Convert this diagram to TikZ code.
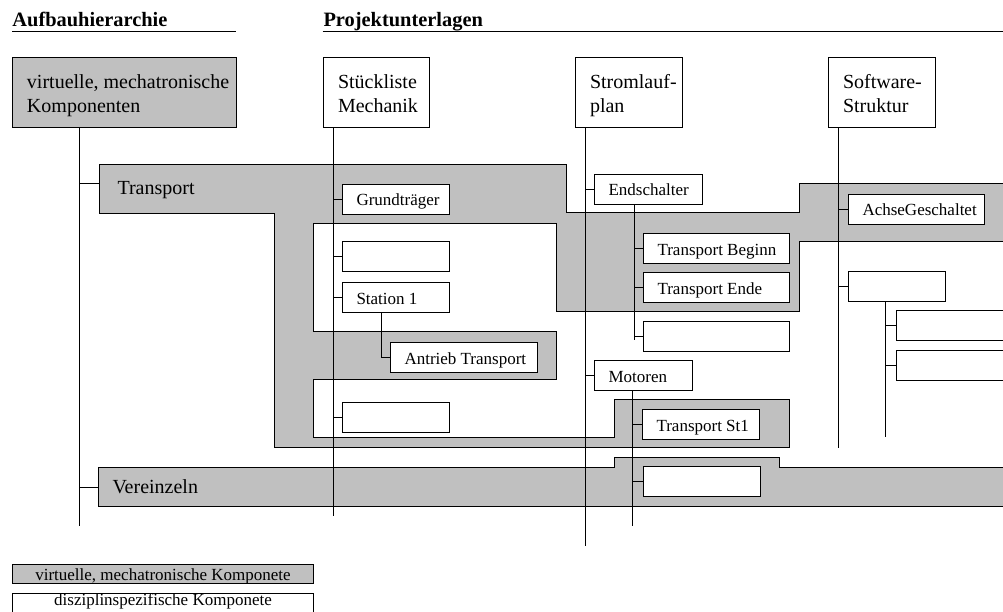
\documentclass[tikz,border=0pt]{standalone}
\usepackage{fontspec}
\setmainfont{Liberation Serif}
\definecolor{vgray}{RGB}{192,192,192}
% one-line cell: width, text (left padded, fixed baseline)
\newcommand\celltext[2]{\hbox to #1pt{\hskip14pt\vbox to 30pt{\offinterlineskip\kern21.5pt\hbox{\smash{#2}}\vss}\hss}}
% two-line cell for the column heads: width, line 1, line 2
\newcommand\headtext[3]{\hbox to #1pt{\hskip14.5pt\vbox to 70pt{\offinterlineskip\kern31pt\hbox{\smash{#2}}\kern24pt\hbox{\smash{#3}}\vss}\hss}}
\begin{document}
\begin{tikzpicture}[x=1pt,y=-1pt,line width=1pt,
  vk/.style={fill=vgray,draw=black,line width=1pt},
  cbox/.style={draw=black,fill=white,line width=1pt,inner sep=0pt,anchor=north west,
    font=\fontsize{17}{20}\selectfont},
  headbox/.style={cbox,font=\fontsize{20}{24}\selectfont},
  ebox/.style={cbox,minimum height=30pt},
  biglabel/.style={anchor=base west,inner sep=0pt,font=\fontsize{20}{24}\selectfont},
  title/.style={anchor=base west,inner sep=0pt,font=\bfseries\fontsize{20.4}{24}\selectfont},
  legbox/.style={draw=black,line width=1pt,inner sep=0pt,anchor=north west,
    minimum width=301pt,font=\fontsize{17}{20}\selectfont},
  ln/.style={draw=black,line width=1pt}]
\useasboundingbox (0,0) rectangle (1003,612);
\clip (0,0) rectangle (1003,612);

% section titles
\node[title] (tA) at (12,27) {Aufbauhierarchie};
\node[title] (tP) at (323,27) {Projektunterlagen};
\draw[ln,line width=1.2pt] (12,31.7) -- (236,31.7);
\draw[ln,line width=1.2pt] (322.7,31.7) -- (1010,31.7);

% virtual mechatronic components (grey areas)
\draw[vk] (99,165) -- (566,165) -- (566,213) -- (799,213) -- (799,184) -- (1010,184)
  -- (1010,242) -- (799,242) -- (799,311) -- (556,311) -- (556,224) -- (313,224)
  -- (313,331) -- (556,331) -- (556,379) -- (313,379) -- (313,437) -- (614,437)
  -- (614,399) -- (789,399) -- (789,447) -- (274,447) -- (274,214) -- (99,214) -- cycle;
\draw[vk] (98,467) -- (614,467) -- (614,457) -- (779,457) -- (779,467) -- (1010,467)
  -- (1010,506) -- (98,506) -- cycle;
\node[biglabel] (trp) at (117,195) {Transport};
\node[biglabel] (ver) at (112,493) {Vereinzeln};
\coordinate (trpIn) at (99,184);
\coordinate (verIn) at (98,487);

% column heads
\node[headbox,fill=vgray] (vmk) at (12,57) {\headtext{224}{virtuelle, mechatronische}{Komponenten}};
\node[headbox] (stm) at (323,57) {\headtext{106}{Stückliste}{Mechanik}};
\node[headbox] (slp) at (575,57) {\headtext{107}{Stromlauf-}{plan}};
\node[headbox] (sws) at (828,57) {\headtext{107}{Software-}{Struktur}};

% end points of the column trunks
\coordinate (mEnd) at (79,526);
\coordinate (sEnd) at (333,516);
\coordinate (pEnd) at (585,546);
\coordinate (wEnd) at (838,448);

% mechanics parts list
\node[cbox] (grund) at (342,184) {\celltext{107}{Grundträger}};
\node[ebox,minimum width=107pt] (e1) at (342,241) {};
\node[cbox] (st1) at (342,282) {\celltext{107}{Station 1}};
\node[cbox] (antr) at (390,342) {\celltext{147}{Antrieb Transport}};
\node[ebox,minimum width=107pt] (e3) at (342,402) {};

% circuit diagram
\node[cbox] (ends) at (594,174) {\celltext{108}{Endschalter}};
\node[cbox] (tb) at (643,233) {\celltext{146}{Transport Beginn}};
\node[cbox] (te) at (643,272) {\celltext{146}{Transport Ende}};
\node[ebox,minimum width=146pt] (e4) at (643,321) {};
\node[cbox] (mot) at (594,360) {\celltext{98}{Motoren}};
\node[cbox] (tst) at (642,409) {\celltext{117}{Transport St1}};
\node[ebox,minimum width=117pt] (e5) at (643,466) {};

% software structure
\node[cbox] (achse) at (848,194) {\celltext{136}{AchseGeschaltet}};
\node[ebox,minimum width=97pt] (e6) at (848,271) {};
\node[ebox,minimum width=130pt] (e7) at (896,310) {};
\node[ebox,minimum width=130pt] (e8) at (896,350) {};

% sub-trunks
\coordinate (endsEnd) at (634,340);
\coordinate (motEnd) at (632,526);
\coordinate (e6End) at (885,437);
\coordinate (st1Knee) at (381,357);

% trunks
\draw[ln] (vmk.south -| mEnd) -- (mEnd);
\draw[ln] (stm.south -| sEnd) -- (sEnd);
\draw[ln] (slp.south -| pEnd) -- (pEnd);
\draw[ln] (sws.south -| wEnd) -- (wEnd);
\draw[ln] (ends.south -| endsEnd) -- (endsEnd);
\draw[ln] (mot.south -| motEnd) -- (motEnd);
\draw[ln] (e6.south -| e6End) -- (e6End);
\draw[ln] (st1.south -| st1Knee) -- (st1Knee) -- (antr.west |- st1Knee);

% branches
\draw[ln] (trpIn -| mEnd) -- (trpIn);
\draw[ln] (verIn -| mEnd) -- (verIn);
\foreach \n in {grund,e1,st1,e3} \draw[ln] (\n.west -| sEnd) -- (\n.west);
\foreach \n in {ends,mot} \draw[ln] (\n.west -| pEnd) -- (\n.west);
\foreach \n in {tb,te,e4} \draw[ln] (\n.west -| endsEnd) -- (\n.west);
\foreach \n in {tst,e5} \draw[ln] (\n.west -| motEnd) -- (\n.west);
\foreach \n in {achse,e6} \draw[ln] (\n.west -| wEnd) -- (\n.west);
\foreach \n in {e7,e8} \draw[ln] (\n.west -| e6End) -- (\n.west);

% legend
\node[legbox,fill=vgray,minimum height=19pt,text height=13pt,text depth=0pt] (lg1) at (12,564)
  {virtuelle, mechatronische Komponete};
\node[legbox,fill=white,minimum height=21pt,text height=9pt,text depth=6pt] (lg2) at (12,593)
  {disziplinspezifische Komponete};
\end{tikzpicture}
\end{document}
